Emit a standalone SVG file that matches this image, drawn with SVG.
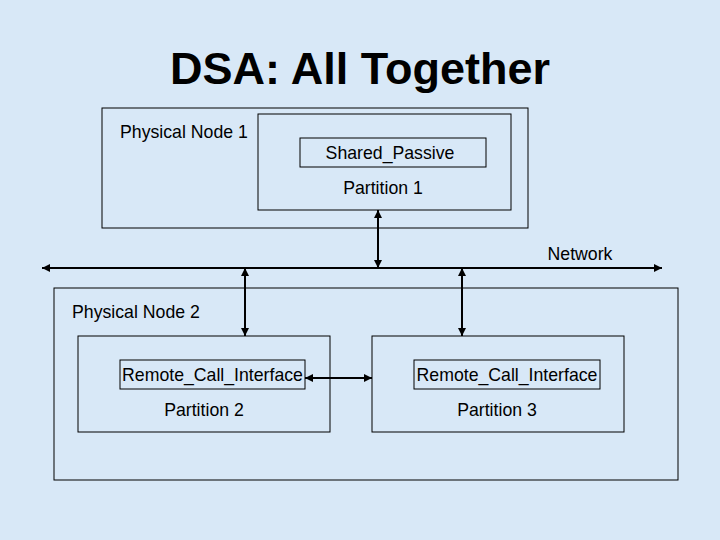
<svg xmlns="http://www.w3.org/2000/svg" width="720" height="540" viewBox="0 0 720 540">
<defs>
<marker id="ah" viewBox="0 0 10 10" refX="10" refY="5" markerWidth="8" markerHeight="8" orient="auto-start-reverse" markerUnits="userSpaceOnUse"><path d="M0,0L10,5L0,10z" fill="#000"/></marker>
</defs>
<style>
.b{fill:none;stroke:#000;stroke-width:1}
.t{font-family:"Liberation Sans",Arial,sans-serif;font-size:17.7px;fill:#000}
.c{stroke:#000;stroke-width:2;fill:none;marker-start:url(#ah);marker-end:url(#ah)}
</style>
<rect width="720" height="540" fill="#d8e8f7"/>
<text x="360" y="84" text-anchor="middle" font-family="Liberation Sans,Arial,sans-serif" font-size="45" font-weight="bold">DSA: All Together</text>
<g id="node1"><rect class="b" x="102" y="108" width="426" height="120"/><text class="t" x="120" y="138">Physical Node 1</text></g>
<g id="partition1"><rect class="b" x="258" y="114" width="253" height="96"/><text class="t" x="383" y="194" text-anchor="middle">Partition 1</text></g>
<g id="shared"><rect class="b" x="300" y="138" width="186" height="29"/><text class="t" x="390" y="159" text-anchor="middle">Shared_Passive</text></g>
<g id="node2"><rect class="b" x="54" y="288" width="624" height="192"/><text class="t" x="72" y="318">Physical Node 2</text></g>
<g id="partition2"><rect class="b" x="78" y="336" width="252" height="96"/><text class="t" x="204" y="416" text-anchor="middle">Partition 2</text></g>
<g id="rci1"><rect class="b" x="120" y="360" width="185" height="29"/><text class="t" x="212.5" y="381" text-anchor="middle">Remote_Call_Interface</text></g>
<g id="partition3"><rect class="b" x="372" y="336" width="252" height="96"/><text class="t" x="497" y="416" text-anchor="middle">Partition 3</text></g>
<g id="rci2"><rect class="b" x="414" y="360" width="186" height="29"/><text class="t" x="507" y="381" text-anchor="middle">Remote_Call_Interface</text></g>
<g id="connectors">
<line class="c" x1="42" y1="268" x2="662" y2="268"/>
<text class="t" x="580" y="260" text-anchor="middle">Network</text>
<line class="c" x1="378" y1="210" x2="378" y2="268"/>
<line class="c" x1="245" y1="268" x2="245" y2="336"/>
<line class="c" x1="462" y1="268" x2="462" y2="336"/>
<line class="c" x1="305" y1="378" x2="372" y2="378"/>
</g>
</svg>
